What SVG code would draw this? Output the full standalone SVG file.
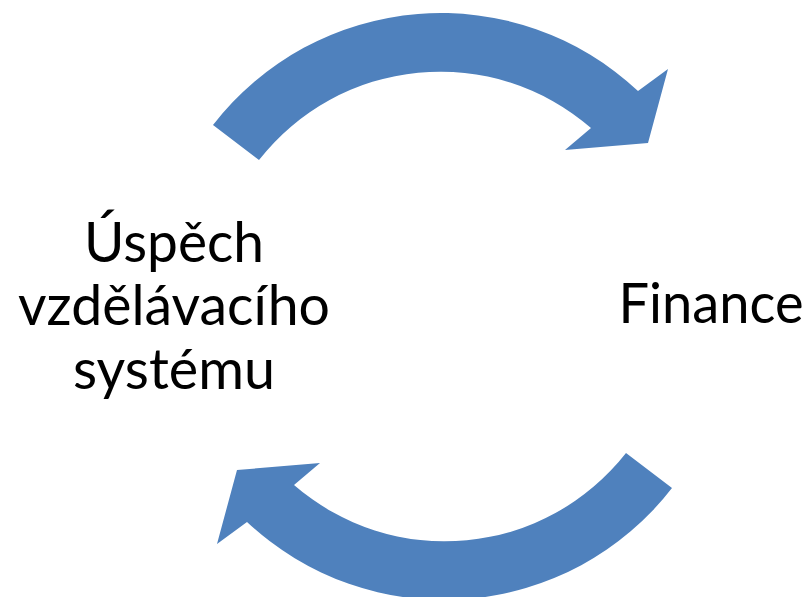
<svg xmlns="http://www.w3.org/2000/svg" xmlns:xlink="http://www.w3.org/1999/xlink" width="812" height="597" viewBox="0 0 812 597">
<style>
.lbl{font-family:Lato,"Liberation Sans",sans-serif;font-size:57px;fill:#000;text-anchor:middle}
.arr{fill:#4F81BD;stroke:none}
</style>
<defs>
<path id="arc" d="M 213,125 A 288 288 0 0 1 638,91 L 668,69 L 648,143 L 565,150 L 591,128 A 230 230 0 0 0 259,160 Z"/>
</defs>
<rect width="812" height="597" fill="#fff"/>
<g id="connectors">
<use xlink:href="#arc" class="arr"/>
<use xlink:href="#arc" class="arr" transform="rotate(180 442.5 306.5)"/>
</g>
<g id="node-uspech">
<text class="lbl" x="174" y="262" textLength="180" lengthAdjust="spacingAndGlyphs">Úspěch</text>
<text class="lbl" x="174" y="325" textLength="312" lengthAdjust="spacingAndGlyphs">vzdělávacího</text>
<text class="lbl" x="174" y="389" textLength="202" lengthAdjust="spacingAndGlyphs">systému</text>
</g>
<g id="node-finance">
<text class="lbl" x="711" y="323" textLength="185" lengthAdjust="spacingAndGlyphs">Finance</text>
</g>
</svg>
